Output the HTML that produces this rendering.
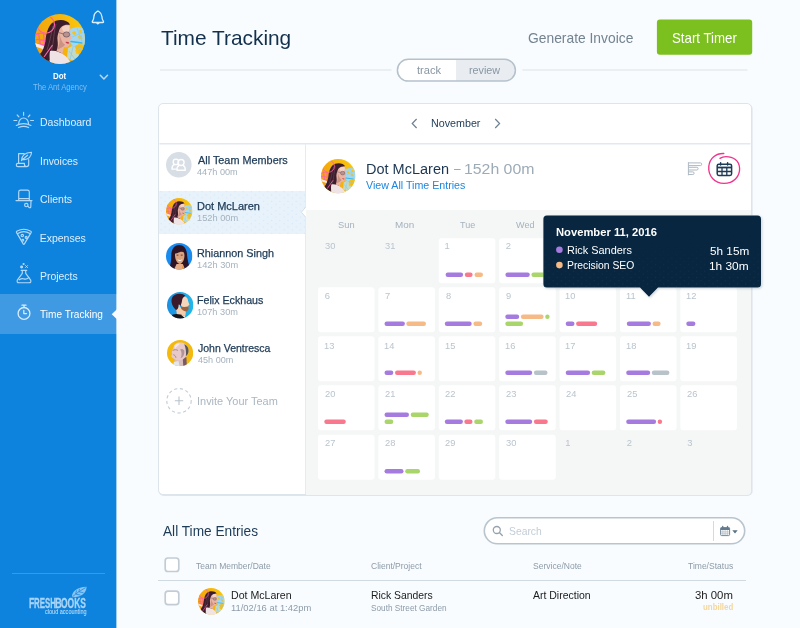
<!DOCTYPE html>
<html lang="en"><head><meta charset="utf-8"><title>Time Tracking</title>
<style>
*{box-sizing:border-box;margin:0;padding:0}
html,body{width:800px;height:628px;overflow:hidden}
body{position:relative;background:#f8fcff;font-family:"Liberation Sans",sans-serif;color:#1d3a56}
.t{position:absolute;white-space:nowrap;line-height:1;transform-origin:0 0;display:block}
.abs{position:absolute}
#side{position:absolute;left:0;top:0;width:116px;height:628px;background:#0e83de;border-right:0}
#sidee{position:absolute;left:116px;top:0;width:1px;height:628px;background:#9fcdf2}
#sidee i{position:absolute;left:0;top:294px;width:1px;height:40px;background:#b4d8f5}
#side .active{position:absolute;left:0;top:294px;width:116px;height:40px;background:#3f9ae3}
#side .notch{position:absolute;left:111.5px;top:309px;width:0;height:0;border-top:5.2px solid transparent;border-bottom:5.2px solid transparent;border-right:5.5px solid #f8fbfe}
#side .div{position:absolute;left:12px;top:573px;width:93px;height:1px;background:#3a99e4}
svg{position:absolute;overflow:visible}
.card{position:absolute;left:158px;top:103px;width:593.5px;height:392px;background:#fff;border:1.4px solid #dde4eb;border-radius:5px;box-shadow:.6px 1px 0 rgba(205,214,224,.6)}
.cal{position:absolute;left:306px;top:209.6px;width:445px;height:285px;background:#f5f7f7;border-bottom-right-radius:4px}
.cell{position:absolute;width:56.5px;height:45px;background:#fff;border-radius:3px}
.b{position:absolute;height:4.4px;border-radius:2.2px}
.p{fill:#a67be0}.o{fill:#f6ba86}.r{fill:#f8788d}.g{fill:#a9d56b}.y{fill:#b7c2c9}
</style></head><body>

<!-- ============ SIDEBAR ============ -->
<div id="side">
  <div class="active"></div><div class="div"></div>
</div>
<div id="sidee"><i></i></div>
<svg style="left:108px;top:305px" width="10" height="18" viewBox="108 305 10 18"><path d="M117.2 308.9 L111.7 314.2 L117.2 319.5 Z" fill="#f8fcff"/></svg>
<svg width="0" height="0" style="left:0;top:0"><defs>
<linearGradient id="dg" x1="0" y1="0.6" x2="1" y2="0.2"><stop offset="0" stop-color="#f2a110"/><stop offset="0.55" stop-color="#f6b40c"/><stop offset="1" stop-color="#fac90d"/></linearGradient>
<clipPath id="cc"><circle cx="50" cy="50" r="50"/></clipPath>
<symbol id="dot" viewBox="0 0 100 100">
 <g clip-path="url(#cc)">
  <rect width="100" height="100" fill="url(#dg)"/>
  <!-- blue doodles right -->
  <path d="M69 30 L84 26 L100 28 L100 62 L88 60 L76 66 L70 56 Z" fill="#a3d7f0"/>
  <path d="M66 68 L78 62 L90 86 L80 95 L64 88 Z" fill="#b9e0ea" opacity=".85"/>
  <path d="M74 36 l6 -2 l3 6 l-6 2z M86 44 l7 -2 l2 7 l-7 2z M80 72 l5 -2 l3 8 l-5 2z M88 32 l5 0 l1 5 l-5 1z" fill="#f7c21a"/>
  <path d="M72 55 L94 58" stroke="#3ab6ee" stroke-width="3" stroke-linecap="round"/>
  <path d="M70 62 L98 72 M74 46 L98 36 M84 28 L96 60 M68 74 L84 96 M76 66 L70 92" stroke="#8fcdea" stroke-width="1.8" fill="none"/>
  <!-- pink squiggles -->
  <path d="M1 42 C8 36 20 38 25 44 M0 52 C10 48 18 56 26 52 M3 60 C10 58 16 64 24 60 M7 38 L11 62 M17 38 L19 62" stroke="#ff62a6" stroke-width="2.5" fill="none"/>
  <!-- white stroke -->
  <path d="M0 58 C14 62 30 70 44 78 L42 84 C28 76 12 68 0 65 Z" fill="#f6e9e6"/>
  <!-- hair -->
  <path d="M51 12 C60 12 67 15 70 21 C64 22 58 26 55 32 C53 42 53 52 55 62 C56 70 54 78 50 84 L44 96 L26 92 L10 80 C16 74 19 64 21 54 C22 40 26 26 33 19 C38 14 45 12 51 12 Z" fill="#3b1d2c"/>
  <path d="M36 24 C32 40 30 56 24 72 M42 20 C37 36 38 54 33 74" stroke="#6e4757" stroke-width="2" fill="none" opacity=".8"/>
  <!-- face -->
  <path d="M48 34 C50 26 58 20 69 22 C71 28 71 35 70 40 C72 44 74 47 73 49 C72 51 70 51 70 53 C70 57 70 61 68 64 C65 67 61 67 58 66 C57 70 56 74 55 79 L43 74 C46 66 46 60 45 52 C44 46 46 40 48 34 Z" fill="#e9b5a2"/>
  <path d="M54 27 C58 23 64 22 69 24 C70 30 69 35 64 37 C58 37 54 33 54 27Z" fill="#f6d8ca" opacity=".85"/>
  <path d="M48 38 C50 50 50 62 44 72 C50 68 58 66 60 61 C54 58 52 50 48 38 Z" fill="#b97b70" opacity=".6"/>
  <path d="M61 56 C64 55 67 56 69 58 C67 60 63 60 61 56Z" fill="#c63d4f"/>
  <ellipse cx="63" cy="41" rx="6.4" ry="5.2" fill="rgba(120,95,110,.4)" stroke="#6a5566" stroke-width="1.5"/>
  <path d="M47 37 L57 40" stroke="#6a5566" stroke-width="1.4"/>
  <!-- shirt -->
  <path d="M30 74 C40 72 50 76 58 82 C64 86 68 90 70 96 L66 104 L30 104 C30 94 28 84 30 74 Z" fill="#f0e3e5"/>
  <path d="M10 80 C18 83 27 90 33 100 L8 100 Z" fill="#2e1824"/>
  <path d="M35 62 L18 86" stroke="#ff62a6" stroke-width="2.4"/>
  <!-- pink ring on top -->
  <circle cx="21.5" cy="21" r="17.5" fill="none" stroke="#ff62a6" stroke-width="2.4"/>
 </g>
</symbol>

</defs></svg>
<svg style="left:35px;top:14.4px" width="50" height="50"><use href="#dot" width="50" height="50"/></svg>

<svg style="left:0;top:0" width="117" height="628" viewBox="0 0 117 628" fill="none" stroke="#b4d9f7" stroke-width="1.15" stroke-linecap="round" stroke-linejoin="round">
 <!-- bell -->
 <path d="M97.9 10.9 C96.6 12 94 12.8 93.9 16.6 C93.8 19.4 93.2 20.4 92.5 21.2 C92 21.9 92.3 22.5 93.1 22.5 H102.7 C103.5 22.5 103.8 21.9 103.3 21.2 C102.6 20.2 102 19.2 101.9 16.4 C101.8 12.8 99.2 12 97.9 10.9 Z" stroke="#dcedfb" stroke-width="1.3"/>
 <path d="M96.5 23.1 Q97.9 25.6 99.3 23.1 Z" stroke="#dcedfb" stroke-width="1" fill="#dcedfb"/>
 <!-- chevron -->
 <path d="M100.3 75.2 L103.9 78.9 L107.5 75.2" stroke="#b5daf7" stroke-width="1.5"/>
 <!-- dashboard -->
 <path d="M18.7 123.6 A4.9 5.6 0 0 1 28.5 123.6"/>
 <path d="M23.6 112.4 V115.3 M17.2 115 L18.9 116.8 M29.9 115 L28.3 116.8 M13.9 120.5 H16.8 M30.6 120.5 H33.5"/>
 <path d="M16.3 125.5 Q23.6 121.8 30.9 125.5 M18.6 127.6 Q23.6 125.2 28.6 127.6"/>
 <!-- invoices -->
 <path d="M18.6 163.2 V153.6 H24.2 M28.7 159.6 V164.6 Q28.7 166.6 26.6 166.6 H17.9 Q16.3 166.6 16.3 164.9 Q16.3 163.3 17.9 163.3 H24.4 V164.6 Q24.4 166.6 26.6 166.6"/>
 <path d="M21.5 160.6 C21.6 156 25 152.6 31.5 152.3 C31.4 156.4 28.6 160 23.4 159.6 M22.3 159.8 L27.6 155.2"/>
 <!-- clients -->
 <path d="M18.7 200.5 V192 Q18.7 190.1 20.6 190.1 H27.4 Q29.3 190.1 29.3 192 V200.5 M18.7 198.6 H29.3 M16 200.6 H32"/>
 <circle cx="26.3" cy="205" r="1.7"/>
 <path d="M31 200.8 L30.8 206.8 Q30.6 208 29.2 207.7 L27.8 206.2"/>
 <!-- expenses -->
 <path d="M16.6 232.6 Q16 231.5 17.2 230.9 Q23.8 227.6 30.4 230.9 Q31.7 231.5 31.1 232.6 L24.4 243.9 Q23.8 244.8 23.2 243.9 Z"/>
 <path d="M17.8 233.6 Q23.8 229.6 29.9 233.6"/>
 <circle cx="22.3" cy="235.5" r="1.2"/><circle cx="26.2" cy="237.4" r="1"/><circle cx="22.8" cy="240.3" r=".9"/>
 <!-- projects -->
 <path d="M21.1 270.3 H26.8 M22.3 270.5 V273.3 L17.3 280.2 Q16.5 282.7 19 282.7 H29 Q31.5 282.7 30.7 280.2 L25.7 273.3 V270.5"/>
 <path d="M19.2 279.8 Q22 278 24 278.9 Q26.5 279.6 28.8 277.6"/>
 <circle cx="21.6" cy="266.9" r=".9" fill="#b4d9f7"/><circle cx="23.6" cy="264" r=".5" fill="#b4d9f7"/>
 <path d="M25.5 265.5 L27.6 267.6 M27.6 265.5 L25.5 267.6" stroke-width=".9"/>
 <!-- time tracking -->
 <circle cx="24" cy="313.4" r="5.9" stroke="#d9ecfb" stroke-width="1.3"/>
 <path d="M22 305.2 H26 M24 305.2 V307.5 M23.8 310.4 V313.6 H26.5" stroke="#d9ecfb" stroke-width="1.3"/>
</svg>

<span class="t" style="left:53.19px;top:72px;font-size:8.6px;color:#ffffff;font-weight:700;transform:scaleX(0.9231);">Dot</span>
<span class="t" style="left:33.12px;top:83px;font-size:8.6px;color:#80bef1;font-weight:400;transform:scaleX(0.8943);">The Ant Agency</span>
<span class="t" style="left:39.65px;top:117px;font-size:10.5px;color:#dfeefb;font-weight:400;transform:scaleX(1.0010);">Dashboard</span>
<span class="t" style="left:39.56px;top:156px;font-size:10.5px;color:#dfeefb;font-weight:400;transform:scaleX(0.9866);">Invoices</span>
<span class="t" style="left:40.00px;top:194px;font-size:10.5px;color:#dfeefb;font-weight:400;transform:scaleX(0.9984);">Clients</span>
<span class="t" style="left:39.65px;top:233px;font-size:10.5px;color:#dfeefb;font-weight:400;transform:scaleX(1.0000);">Expenses</span>
<span class="t" style="left:39.66px;top:271px;font-size:10.5px;color:#dfeefb;font-weight:400;transform:scaleX(0.9932);">Projects</span>
<span class="t" style="left:40.31px;top:309px;font-size:10.5px;color:#ffffff;font-weight:400;transform:scaleX(0.9606);">Time Tracking</span>
<svg style="left:70px;top:585px" width="18" height="14" viewBox="0 0 18 14"><path d="M2 12.2 C1.6 6.5 7 2.2 16.6 1.8 C16.4 8.2 11 12.6 2 12.2 Z" fill="#8cc5f1"/><path d="M2.4 11.8 C6 8.6 10 5.8 15.6 2.6 M5.6 9 L6.6 5.4 M8.8 6.8 L9.6 3.8 M6 9.2 L10.4 10 M9.2 7 L13.4 7.6" stroke="#0e83de" stroke-width=".7" fill="none"/></svg>
<span class="t" style="left:29.44px;top:595px;font-size:15.4px;color:#a9d4f6;font-weight:700;transform:scaleX(0.5605);-webkit-text-stroke:.3px #a9d4f6">F</span>
<span class="t" style="left:34.09px;top:597px;font-size:13.8px;color:#a9d4f6;font-weight:700;transform:scaleX(0.5691);-webkit-text-stroke:.3px #a9d4f6">RESH</span>
<span class="t" style="left:54.99px;top:595px;font-size:15.4px;color:#a9d4f6;font-weight:700;transform:scaleX(0.6138);-webkit-text-stroke:.3px #a9d4f6">B</span>
<span class="t" style="left:61.26px;top:597px;font-size:13.8px;color:#a9d4f6;font-weight:700;transform:scaleX(0.6162);-webkit-text-stroke:.3px #a9d4f6">OOKS</span>
<span class="t" style="left:44.79px;top:609px;font-size:6.6px;color:#cbe4f9;font-weight:400;transform:scaleX(0.8393);">cloud accounting</span>


<!-- ============ HEADER ============ -->
<span class="t" style="left:160.74px;top:28px;font-size:20.4px;color:#13304d;font-weight:400;transform:scaleX(1.0231);">Time Tracking</span>
<span class="t" style="left:527.70px;top:31px;font-size:14.8px;color:#73838f;font-weight:400;transform:scaleX(0.9349);">Generate Invoice</span>
<svg style="left:650px;top:15px" width="110" height="45" viewBox="650 15 110 45"><rect x="656.9" y="19.4" width="95.3" height="35.3" rx="3" fill="#7cc01f"/></svg>
<span class="t" style="left:671.91px;top:31px;font-size:14.6px;color:#ffffff;font-weight:400;transform:scaleX(0.9086);">Start Timer</span>
<svg style="left:0;top:0" width="800" height="100" viewBox="0 0 800 100"><path d="M160 70 H391.4 M522.4 70 H747.5" stroke="#dbe2e9" stroke-width="1.2"/></svg>
<svg style="left:390px;top:54px" width="132" height="32" viewBox="390 54 132 32"><defs><clipPath id="pc"><rect x="397.4" y="59.3" width="118" height="21.8" rx="10.9"/></clipPath></defs><rect x="397.4" y="59.3" width="118" height="21.8" rx="10.9" fill="#fff"/><rect x="456" y="58" width="62" height="25" fill="#e9edf2" clip-path="url(#pc)"/><rect x="397.4" y="59.3" width="118" height="21.8" rx="10.9" fill="none" stroke="#b5c1cb" stroke-width="1.5"/></svg>
<span class="t" style="left:417.46px;top:64px;font-size:11.6px;color:#8896a2;font-weight:400;transform:scaleX(0.9600);">track</span>
<span class="t" style="left:469.10px;top:64px;font-size:11.6px;color:#8896a2;font-weight:400;transform:scaleX(0.9299);">review</span>

<!-- ============ CARD ============ -->
<div class="card"></div>
<svg style="left:0;top:140px" width="800" height="8" viewBox="0 140 800 8"><path d="M159.4 143.7 H750.4" stroke="#e2e8ef" stroke-width="1.5"/></svg>
<div class="abs" style="left:304.6px;top:144px;width:1.8px;height:350px;background:#e6ebf1"></div>
<span class="t" style="left:430.74px;top:118px;font-size:10.6px;color:#1d3a56;font-weight:400;transform:scaleX(1.0115);">November</span>
<svg style="left:411px;top:118px" width="7" height="11" viewBox="0 0 7 11"><path d="M5.6 1 L1.2 5.5 L5.6 10" fill="none" stroke="#6f8090" stroke-width="1.2"/></svg>
<svg style="left:493.5px;top:118px" width="7" height="11" viewBox="0 0 7 11"><path d="M1.2 1 L5.6 5.5 L1.2 10" fill="none" stroke="#6f8090" stroke-width="1.2"/></svg>

<!-- team list -->
<div class="abs" style="left:159px;top:190.6px;width:146px;height:43px;background:#e7f2fb"></div>
<!-- highlight notch -->
<svg style="left:159px;top:190px" width="148" height="44" viewBox="159 190 148 44"><defs><pattern id="dots" x="159" y="190" width="8.2" height="6.4" patternUnits="userSpaceOnUse"><circle cx="2" cy="1.6" r=".55" fill="#c9e0f2"/><circle cx="6.1" cy="4.8" r=".55" fill="#c9e0f2"/></pattern></defs>
<rect x="159" y="190.6" width="146" height="43" fill="url(#dots)"/>
<path d="M306.2 206.8 L301.4 212.2 L306.2 217.6 Z" fill="#fff"/><path d="M305.6 207.2 L301.4 212.2 L305.6 217.2" fill="none" stroke="#d3dce4" stroke-width=".9"/></svg>
<!-- all team icon -->
<svg style="left:166px;top:151.7px" width="25.6" height="25.6" viewBox="0 0 25.6 25.6"><circle cx="12.8" cy="12.8" r="12.8" fill="#d8dee5"/>
<g fill="none" stroke="#fff" stroke-width="1.35" stroke-linejoin="round"><circle cx="9.9" cy="9.9" r="2.7"/><path d="M8.3 12.4 C6.4 13.4 5.9 15.2 6 17.2 H10.6"/><circle cx="15.1" cy="10.5" r="3"/><path d="M13.2 13.3 C11.3 14.2 10.8 16.2 10.9 18.3 H19.3 C19.4 16.2 18.9 14.2 17 13.3"/></g></svg>
<!-- dot list avatar -->
<svg style="left:166.3px;top:198px" width="26.4" height="26.4"><use href="#dot" width="26.4" height="26.4"/></svg>
<!-- rhiannon -->
<svg style="left:166.2px;top:243px" width="26.4" height="26.4" viewBox="0 0 100 100"><g clip-path="url(#cc)">
 <rect width="100" height="100" fill="#1a8cf0"/>
 <path d="M50 8 C70 8 80 26 80 48 C82 66 86 80 90 92 L60 100 L30 100 L14 92 C18 78 20 64 20 48 C20 26 30 8 50 8 Z" fill="#2d1526"/>
 <path d="M34 42 C36 30 44 26 52 28 C62 26 70 34 70 46 C70 62 64 76 52 80 C40 76 34 62 34 42 Z" fill="#dca47e"/>
 <path d="M40 80 L64 80 L72 100 L30 100 Z" fill="#e2ad88"/>
 <path d="M30 36 C38 20 60 18 72 38 C62 30 52 34 44 38 C40 40 34 42 30 36 Z" fill="#2d1526"/>
 <path d="M43 62 C48 66 58 66 62 61 C60 70 46 71 43 62 Z" fill="#fff"/>
 <path d="M40 46 l7 0 M56 46 l7 0" stroke="#4a2030" stroke-width="3"/>
 <path d="M62 88 l4 0 l0 10 l-4 0z" fill="#f08a1c"/>
</g></svg>
<!-- felix -->
<svg style="left:166.7px;top:291.7px" width="26.4" height="26.4" viewBox="0 0 100 100"><defs><linearGradient id="fg" x1="0" y1="0" x2="1" y2="0"><stop offset="0" stop-color="#1b8ee2"/><stop offset=".5" stop-color="#1ea4e6"/><stop offset="1" stop-color="#22b8e8"/></linearGradient></defs><g clip-path="url(#cc)">
 <rect width="100" height="100" fill="url(#fg)"/>
 <path d="M34 60 L46 54 L72 70 L70 88 L38 90 Z" fill="#f3ccab"/>
 <path d="M54 18 C68 12 80 22 80 34 L85 48 L80 52 L82 60 L76 66 L58 62 L50 42 Z" fill="#f6d6ba"/>
 <path d="M54 54 C60 58 70 57 82 54 C84 64 80 72 72 74 C63 73 56 68 52 60 Z" fill="#9a6440"/>
 <path d="M30 10 C44 4 62 6 70 14 C62 18 58 24 57 32 C56 40 54 44 52 52 C48 48 44 50 43 56 C43 62 40 66 34 68 C22 58 14 40 18 26 C20 18 24 13 30 10 Z" fill="#3a1a2b"/>
 <path d="M44 48 C47 46 51 50 49 58 C45 58 43 53 44 48Z" fill="#ecbf9e"/>
 <path d="M20 86 C34 80 50 84 66 90 L64 102 L16 102 Z" fill="#15121a"/>
 <path d="M54 87 L70 89 L66 97 Z" fill="#f4f0ee"/>
</g></svg>
<!-- john -->
<svg style="left:166.9px;top:340.3px" width="26.2" height="26.2" viewBox="0 0 100 100"><g clip-path="url(#cc)">
 <rect width="100" height="100" fill="#f4b90d"/>
 <path d="M30 70 L70 60 L74 100 L26 100 Z" fill="#d9bcbc"/>
 <path d="M26 84 L44 80 L48 100 L24 100 Z" fill="#e4e6ea"/>
 <path d="M60 62 L74 66 L76 100 L62 100 Z" fill="#7a5a62"/>
 <path d="M44 10 C62 6 78 16 82 34 C84 50 78 62 66 70 C58 78 46 80 36 76 L22 70 L16 62 L20 54 L18 46 L24 30 C28 18 34 12 44 10 Z" fill="#e6c9c8"/>
 <path d="M66 16 C78 20 84 32 82 46 C80 54 76 60 72 62 C74 48 72 30 66 16 Z" fill="#56565c"/>
 <path d="M50 36 C56 44 58 56 52 70 C62 66 68 54 66 40 C62 34 56 32 50 36 Z" fill="#a8868c" opacity=".8"/>
 <path d="M22 40 C28 36 36 36 42 40 M24 56 C30 58 34 62 34 68" stroke="#9a7a82" stroke-width="3" fill="none"/>
 <path d="M28 20 C34 14 42 12 50 14 C44 20 36 26 30 34 Z" fill="#f3e3e2"/>
</g></svg>
<!-- invite -->
<svg style="left:166px;top:388.4px" width="26" height="26" viewBox="0 0 26 26"><circle cx="13" cy="12.8" r="12.2" fill="none" stroke="#c3ccd5" stroke-width="1.1" stroke-dasharray="3.2 2.6"/><path d="M13 8.6 V17 M8.8 12.8 H17.2" stroke="#b9c3cc" stroke-width="1.1"/></svg>

<span class="t" style="left:197.60px;top:155px;font-size:10.9px;color:#1d3a56;font-weight:400;transform:scaleX(0.9972);-webkit-text-stroke:.25px #1d3a56">All Team Members</span>
<span class="t" style="left:197.38px;top:168px;font-size:8.4px;color:#a5b2bd;font-weight:400;transform:scaleX(1.0929);">447h 00m</span>
<span class="t" style="left:196.69px;top:201px;font-size:10.9px;color:#1d3a56;font-weight:400;transform:scaleX(1.0099);-webkit-text-stroke:.25px #1d3a56">Dot McLaren</span>
<span class="t" style="left:196.88px;top:214px;font-size:8.4px;color:#a5b2bd;font-weight:400;transform:scaleX(1.1065);">152h 00m</span>
<span class="t" style="left:196.71px;top:248px;font-size:10.9px;color:#1d3a56;font-weight:400;transform:scaleX(0.9928);-webkit-text-stroke:.25px #1d3a56">Rhiannon Singh</span>
<span class="t" style="left:196.88px;top:261px;font-size:8.4px;color:#a5b2bd;font-weight:400;transform:scaleX(1.1065);">142h 30m</span>
<span class="t" style="left:197.02px;top:295px;font-size:10.9px;color:#1d3a56;font-weight:400;transform:scaleX(0.9782);-webkit-text-stroke:.25px #1d3a56">Felix Eckhaus</span>
<span class="t" style="left:197.19px;top:308px;font-size:8.4px;color:#a5b2bd;font-weight:400;transform:scaleX(1.0982);">107h 30m</span>
<span class="t" style="left:197.76px;top:343px;font-size:10.9px;color:#1d3a56;font-weight:400;transform:scaleX(0.9653);-webkit-text-stroke:.25px #1d3a56">John Ventresca</span>
<span class="t" style="left:197.68px;top:356px;font-size:8.4px;color:#a5b2bd;font-weight:400;transform:scaleX(1.0829);">45h 00m</span>
<span class="t" style="left:196.89px;top:396px;font-size:10.9px;color:#aab6c0;font-weight:400;transform:scaleX(1.0057);">Invite Your Team</span>

<!-- right panel header -->
<span class="t" style="left:365.81px;top:161px;font-size:15.2px;color:#1b3652;font-weight:400;transform:scaleX(0.9552);">Dot McLaren</span>
<span class="t" style="left:453.80px;top:160px;font-size:15.2px;color:#9dabb7;font-weight:400;transform:scaleX(0.7811);">–</span>
<span class="t" style="left:464.10px;top:161px;font-size:15.2px;color:#9dabb7;font-weight:400;transform:scaleX(1.0420);">152h 00m</span>
<span class="t" style="left:365.95px;top:180px;font-size:10.9px;color:#1c86e0;font-weight:400;transform:scaleX(0.9792);">View All Time Entries</span>
<svg style="left:321.3px;top:158.8px" width="34.4" height="34.4"><use href="#dot" width="34.4" height="34.4"/></svg>
<svg style="left:680px;top:150px" width="66" height="40" viewBox="680 150 66 40" fill="none">
 <g stroke="#aeb9c3" stroke-width="1">
  <path d="M688.4 162.2 V175.3"/>
  <path d="M688.4 162.9 H700.4 Q701.7 162.9 701.7 164.2 Q701.7 165.6 700.4 165.6 H688.4"/>
  <path d="M688.4 167.3 H696.8 Q698.1 167.3 698.1 168.6 Q698.1 170 696.8 170 H688.4"/>
  <path d="M688.4 171.9 H692.8 Q694.1 171.9 694.1 173.2 Q694.1 174.5 692.8 174.5 H688.4"/>
 </g>
 <g stroke="#1d3a56" stroke-width="1.5">
  <rect x="717.2" y="164.2" width="14.4" height="11.2" rx="1.6"/>
  <path d="M717.2 167.5 H731.6" stroke-width="1.8"/>
  <path d="M722 167.5 V175.4 M726.8 167.5 V175.4 M717.2 171.5 H731.6" stroke-width="1.3"/>
  <path d="M720.6 162.7 V165 M727.6 162.7 V165" stroke-width="1.5" stroke-linecap="round"/>
 </g>
 <path d="M723.8 153.5 C716 153.2 709.6 158 708.8 166.4 C708 176 714.6 183.4 724 183.4 C733.4 183.4 740 176.6 739.6 168.2 C739.2 160.6 733.2 156.6 726 156.6 C723.6 156.6 721.6 157.2 720 158.4" stroke="#f0348c" stroke-width="1.35" stroke-linecap="round"/>
</svg>


<!-- calendar -->
<div class="cal"></div>
<svg style="left:0;top:0" width="800" height="628" viewBox="0 0 800 628"><rect x="438.8" y="238.2" width="56.5" height="45" rx="3" fill="#fff"/><rect x="499.2" y="238.2" width="56.5" height="45" rx="3" fill="#fff"/><rect x="559.6" y="238.2" width="56.5" height="45" rx="3" fill="#fff"/><rect x="620.0" y="238.2" width="56.5" height="45" rx="3" fill="#fff"/><rect x="680.4" y="238.2" width="56.5" height="45" rx="3" fill="#fff"/><rect x="318.0" y="287.2" width="56.5" height="45" rx="3" fill="#fff"/><rect x="378.4" y="287.2" width="56.5" height="45" rx="3" fill="#fff"/><rect x="438.8" y="287.2" width="56.5" height="45" rx="3" fill="#fff"/><rect x="499.2" y="287.2" width="56.5" height="45" rx="3" fill="#fff"/><rect x="559.6" y="287.2" width="56.5" height="45" rx="3" fill="#fff"/><rect x="620.0" y="287.2" width="56.5" height="45" rx="3" fill="#fff"/><rect x="680.4" y="287.2" width="56.5" height="45" rx="3" fill="#fff"/><rect x="318.0" y="336.2" width="56.5" height="45" rx="3" fill="#fff"/><rect x="378.4" y="336.2" width="56.5" height="45" rx="3" fill="#fff"/><rect x="438.8" y="336.2" width="56.5" height="45" rx="3" fill="#fff"/><rect x="499.2" y="336.2" width="56.5" height="45" rx="3" fill="#fff"/><rect x="559.6" y="336.2" width="56.5" height="45" rx="3" fill="#fff"/><rect x="620.0" y="336.2" width="56.5" height="45" rx="3" fill="#fff"/><rect x="680.4" y="336.2" width="56.5" height="45" rx="3" fill="#fff"/><rect x="318.0" y="385.2" width="56.5" height="45" rx="3" fill="#fff"/><rect x="378.4" y="385.2" width="56.5" height="45" rx="3" fill="#fff"/><rect x="438.8" y="385.2" width="56.5" height="45" rx="3" fill="#fff"/><rect x="499.2" y="385.2" width="56.5" height="45" rx="3" fill="#fff"/><rect x="559.6" y="385.2" width="56.5" height="45" rx="3" fill="#fff"/><rect x="620.0" y="385.2" width="56.5" height="45" rx="3" fill="#fff"/><rect x="680.4" y="385.2" width="56.5" height="45" rx="3" fill="#fff"/><rect x="318.0" y="434.7" width="56.5" height="45" rx="3" fill="#fff"/><rect x="378.4" y="434.7" width="56.5" height="45" rx="3" fill="#fff"/><rect x="438.8" y="434.7" width="56.5" height="45" rx="3" fill="#fff"/><rect x="499.2" y="434.7" width="56.5" height="45" rx="3" fill="#fff"/><rect class="p" x="445.6" y="272.6" width="17.5" height="4.4" rx="2.2"/><rect class="r" x="464.8" y="272.6" width="7.8" height="4.4" rx="2.2"/><rect class="o" x="474.5" y="272.6" width="8.5" height="4.4" rx="2.2"/><rect class="p" x="505.4" y="272.6" width="24.4" height="4.4" rx="2.2"/><rect class="g" x="531.4" y="272.6" width="16.6" height="4.4" rx="2.2"/><rect class="p" x="384.5" y="321.6" width="20.4" height="4.4" rx="2.2"/><rect class="o" x="406.3" y="321.6" width="19.7" height="4.4" rx="2.2"/><rect class="p" x="444.8" y="321.6" width="26.9" height="4.4" rx="2.2"/><rect class="o" x="473.4" y="321.6" width="8.8" height="4.4" rx="2.2"/><rect class="p" x="505.3" y="314.6" width="13.9" height="4.4" rx="2.2"/><rect class="o" x="520.9" y="314.6" width="22.7" height="4.4" rx="2.2"/><rect class="g" x="545.2" y="314.6" width="4.4" height="4.4" rx="2.2"/><rect class="g" x="505.3" y="321.6" width="17.8" height="4.4" rx="2.2"/><rect class="p" x="565.7" y="321.6" width="8.8" height="4.4" rx="2.2"/><rect class="r" x="576.1" y="321.6" width="21.1" height="4.4" rx="2.2"/><rect class="p" x="626.8" y="321.6" width="24.1" height="4.4" rx="2.2"/><rect class="o" x="652.5" y="321.6" width="8.1" height="4.4" rx="2.2"/><rect class="p" x="686.3" y="321.6" width="9.1" height="4.4" rx="2.2"/><rect class="p" x="384.5" y="370.6" width="8.8" height="4.4" rx="2.2"/><rect class="r" x="395.0" y="370.6" width="20.9" height="4.4" rx="2.2"/><rect class="o" x="417.5" y="370.6" width="4.4" height="4.4" rx="2.2"/><rect class="p" x="505.3" y="370.6" width="26.9" height="4.4" rx="2.2"/><rect class="y" x="533.9" y="370.6" width="13.6" height="4.4" rx="2.2"/><rect class="p" x="565.7" y="370.6" width="24.4" height="4.4" rx="2.2"/><rect class="g" x="591.7" y="370.6" width="13.7" height="4.4" rx="2.2"/><rect class="p" x="626.2" y="370.6" width="24.0" height="4.4" rx="2.2"/><rect class="y" x="651.8" y="370.6" width="17.6" height="4.4" rx="2.2"/><rect class="r" x="324.3" y="419.6" width="21.5" height="4.4" rx="2.2"/><rect class="p" x="384.5" y="412.6" width="24.5" height="4.4" rx="2.2"/><rect class="g" x="410.7" y="412.6" width="18.1" height="4.4" rx="2.2"/><rect class="g" x="384.5" y="419.6" width="8.8" height="4.4" rx="2.2"/><rect class="p" x="444.8" y="419.6" width="18.1" height="4.4" rx="2.2"/><rect class="r" x="464.3" y="419.6" width="8.2" height="4.4" rx="2.2"/><rect class="g" x="474.2" y="419.6" width="8.8" height="4.4" rx="2.2"/><rect class="p" x="505.3" y="419.6" width="26.9" height="4.4" rx="2.2"/><rect class="r" x="533.9" y="419.6" width="13.9" height="4.4" rx="2.2"/><rect class="p" x="626.2" y="419.6" width="29.9" height="4.4" rx="2.2"/><rect class="r" x="657.7" y="419.6" width="4.4" height="4.4" rx="2.2"/><rect class="p" x="384.5" y="469.1" width="19.0" height="4.4" rx="2.2"/><rect class="g" x="405.2" y="469.1" width="14.8" height="4.4" rx="2.2"/></svg>
<span class="t" style="left:337.56px;top:220px;font-size:9.6px;color:#a5b2bd;font-weight:400;transform:scaleX(0.9720);">Sun</span>
<span class="t" style="left:395.08px;top:220px;font-size:9.6px;color:#a5b2bd;font-weight:400;transform:scaleX(1.0289);">Mon</span>
<span class="t" style="left:459.71px;top:220px;font-size:9.6px;color:#a5b2bd;font-weight:400;transform:scaleX(0.9389);">Tue</span>
<span class="t" style="left:516.05px;top:220px;font-size:9.6px;color:#a5b2bd;font-weight:400;transform:scaleX(0.9446);">Wed</span>
<span class="t" style="left:578.40px;top:220px;font-size:9.6px;color:#a5b2bd;font-weight:400;transform:scaleX(1.0191);">Thu</span>
<span class="t" style="left:640.71px;top:220px;font-size:9.6px;color:#a5b2bd;font-weight:400;transform:scaleX(1.1077);">Fri</span>
<span class="t" style="left:699.95px;top:220px;font-size:9.6px;color:#a5b2bd;font-weight:400;transform:scaleX(1.0072);">Sat</span>
<span class="t" style="left:324.75px;top:241px;font-size:9.4px;color:#b9c4cd;font-weight:400;transform:scaleX(0.9949);">30</span>
<span class="t" style="left:385.15px;top:241px;font-size:9.4px;color:#b9c4cd;font-weight:400;transform:scaleX(0.9897);">31</span>
<span class="t" style="left:444.50px;top:241px;font-size:9.4px;color:#b9c4cd;font-weight:400;transform:scaleX(1.0000);">1</span>
<span class="t" style="left:505.85px;top:241px;font-size:9.4px;color:#b9c4cd;font-weight:400;transform:scaleX(1.0000);">2</span>
<span class="t" style="left:566.35px;top:241px;font-size:9.4px;color:#b9c4cd;font-weight:400;transform:scaleX(1.0000);">3</span>
<span class="t" style="left:626.90px;top:241px;font-size:9.4px;color:#b9c4cd;font-weight:400;transform:scaleX(0.9895);">4</span>
<span class="t" style="left:687.15px;top:241px;font-size:9.4px;color:#b9c4cd;font-weight:400;transform:scaleX(1.0000);">5</span>
<span class="t" style="left:324.65px;top:291px;font-size:9.4px;color:#b9c4cd;font-weight:400;transform:scaleX(1.0000);">6</span>
<span class="t" style="left:385.05px;top:291px;font-size:9.4px;color:#b9c4cd;font-weight:400;transform:scaleX(1.0000);">7</span>
<span class="t" style="left:445.50px;top:291px;font-size:9.4px;color:#b9c4cd;font-weight:400;transform:scaleX(0.9888);">8</span>
<span class="t" style="left:505.86px;top:291px;font-size:9.4px;color:#b9c4cd;font-weight:400;transform:scaleX(0.9885);">9</span>
<span class="t" style="left:565.31px;top:291px;font-size:9.4px;color:#b9c4cd;font-weight:400;transform:scaleX(0.9894);">10</span>
<span class="t" style="left:625.70px;top:291px;font-size:9.4px;color:#b9c4cd;font-weight:400;transform:scaleX(0.9942);">11</span>
<span class="t" style="left:686.11px;top:291px;font-size:9.4px;color:#b9c4cd;font-weight:400;transform:scaleX(0.9892);">12</span>
<span class="t" style="left:323.71px;top:341px;font-size:9.4px;color:#b9c4cd;font-weight:400;transform:scaleX(0.9894);">13</span>
<span class="t" style="left:384.11px;top:341px;font-size:9.4px;color:#b9c4cd;font-weight:400;transform:scaleX(0.9895);">14</span>
<span class="t" style="left:444.51px;top:341px;font-size:9.4px;color:#b9c4cd;font-weight:400;transform:scaleX(0.9894);">15</span>
<span class="t" style="left:504.91px;top:341px;font-size:9.4px;color:#b9c4cd;font-weight:400;transform:scaleX(0.9894);">16</span>
<span class="t" style="left:565.31px;top:341px;font-size:9.4px;color:#b9c4cd;font-weight:400;transform:scaleX(0.9892);">17</span>
<span class="t" style="left:625.71px;top:341px;font-size:9.4px;color:#b9c4cd;font-weight:400;transform:scaleX(0.9894);">18</span>
<span class="t" style="left:686.10px;top:341px;font-size:9.4px;color:#b9c4cd;font-weight:400;transform:scaleX(0.9947);">19</span>
<span class="t" style="left:324.65px;top:389px;font-size:9.4px;color:#b9c4cd;font-weight:400;transform:scaleX(0.9948);">20</span>
<span class="t" style="left:385.05px;top:389px;font-size:9.4px;color:#b9c4cd;font-weight:400;transform:scaleX(0.9896);">21</span>
<span class="t" style="left:445.45px;top:389px;font-size:9.4px;color:#b9c4cd;font-weight:400;transform:scaleX(0.9948);">22</span>
<span class="t" style="left:505.85px;top:389px;font-size:9.4px;color:#b9c4cd;font-weight:400;transform:scaleX(0.9948);">23</span>
<span class="t" style="left:566.25px;top:389px;font-size:9.4px;color:#b9c4cd;font-weight:400;transform:scaleX(0.9949);">24</span>
<span class="t" style="left:626.65px;top:389px;font-size:9.4px;color:#b9c4cd;font-weight:400;transform:scaleX(0.9948);">25</span>
<span class="t" style="left:687.05px;top:389px;font-size:9.4px;color:#b9c4cd;font-weight:400;transform:scaleX(0.9948);">26</span>
<span class="t" style="left:324.65px;top:438px;font-size:9.4px;color:#b9c4cd;font-weight:400;transform:scaleX(0.9948);">27</span>
<span class="t" style="left:385.05px;top:438px;font-size:9.4px;color:#b9c4cd;font-weight:400;transform:scaleX(0.9948);">28</span>
<span class="t" style="left:445.45px;top:438px;font-size:9.4px;color:#b9c4cd;font-weight:400;transform:scaleX(0.9896);">29</span>
<span class="t" style="left:505.95px;top:438px;font-size:9.4px;color:#b9c4cd;font-weight:400;transform:scaleX(0.9949);">30</span>
<span class="t" style="left:565.30px;top:438px;font-size:9.4px;color:#b9c4cd;font-weight:400;transform:scaleX(1.0000);">1</span>
<span class="t" style="left:626.65px;top:438px;font-size:9.4px;color:#b9c4cd;font-weight:400;transform:scaleX(1.0000);">2</span>
<span class="t" style="left:687.15px;top:438px;font-size:9.4px;color:#b9c4cd;font-weight:400;transform:scaleX(1.0000);">3</span>


<!-- tooltip -->
<svg style="left:535px;top:210px" width="235" height="95" viewBox="535 210 235 95"><defs><pattern id="tdots" x="543" y="215" width="8.2" height="6.4" patternUnits="userSpaceOnUse"><circle cx="2" cy="1.6" r=".5" fill="#20405c"/><circle cx="6.1" cy="4.8" r=".5" fill="#20405c"/></pattern><linearGradient id="tfade" x1="0" y1="0" x2="0" y2="1"><stop offset=".25" stop-color="#fff" stop-opacity="0"/><stop offset="1" stop-color="#fff" stop-opacity="1"/></linearGradient><mask id="tm"><rect x="543" y="215" width="220" height="74" fill="url(#tfade)"/></mask></defs>
<path d="M546.9 215.5 H757.5 Q761 215.5 761 219 V284 Q761 287.5 757.5 287.5 H658 L649 296.8 L640 287.5 H546.9 Q543.4 287.5 543.4 284 V219 Q543.4 215.5 546.9 215.5 Z" fill="#082640" stroke="rgba(235,240,245,.6)" stroke-width="1" paint-order="stroke" style="filter:drop-shadow(1.2px 1px 1.2px rgba(90,110,130,.28))"/>
<rect x="544" y="216" width="216.5" height="71" fill="url(#tdots)" mask="url(#tm)"/></svg>
<span class="t" style="left:555.88px;top:227px;font-size:10.9px;color:#ffffff;font-weight:700;transform:scaleX(1.0288);">November 11, 2016</span>
<svg style="left:550px;top:240px" width="20" height="34" viewBox="550 240 20 34"><circle cx="559.4" cy="249.8" r="3.3" fill="#a67be0"/><circle cx="559.4" cy="265.1" r="3.3" fill="#f6ba86"/></svg>
<span class="t" style="left:567.10px;top:245px;font-size:10.9px;color:#ffffff;font-weight:400;transform:scaleX(1.0016);">Rick Sanders</span>
<span class="t" style="left:567.14px;top:260px;font-size:10.9px;color:#ffffff;font-weight:400;transform:scaleX(0.9503);">Precision SEO</span>
<span class="t" style="left:709.51px;top:246px;font-size:10.9px;color:#ffffff;font-weight:400;transform:scaleX(1.0795);">5h 15m</span>
<span class="t" style="left:709.13px;top:261px;font-size:10.9px;color:#ffffff;font-weight:400;transform:scaleX(1.0904);">1h 30m</span>

<!-- ============ ENTRIES ============ -->
<span class="t" style="left:162.85px;top:524px;font-size:14px;color:#1d3a56;font-weight:400;transform:scaleX(0.9772);">All Time Entries</span>
<svg style="left:480px;top:514px" width="270" height="34" viewBox="480 514 270 34"><rect x="484.3" y="517.8" width="260.4" height="26" rx="13" fill="#fff" stroke="#b9c5ce" stroke-width="1.6"/></svg>
<div class="abs" style="left:712.6px;top:521px;width:1px;height:20px;background:#d3dbe2"></div>
<svg style="left:484px;top:515px" width="264" height="32" viewBox="484 515 264 32" fill="none">
 <circle cx="496.8" cy="530" r="3.5" stroke="#96a3ae" stroke-width="1.3"/>
 <path d="M499.4 532.6 L502.3 535.4" stroke="#96a3ae" stroke-width="1.4" stroke-linecap="round"/>
 <rect x="720.6" y="527.6" width="9" height="8" rx="1" stroke="#647a8d" stroke-width=".9"/>
 <rect x="720.6" y="527.6" width="9" height="2.4" fill="#647a8d"/>
 <path d="M722.7 526.3 V528 M727.5 526.3 V528" stroke="#647a8d" stroke-width="1.3" stroke-linecap="round"/>
 <path d="M722.9 530 V535.6 M725.1 530 V535.6 M727.3 530 V535.6 M720.6 531.9 H729.6 M720.6 533.8 H729.6" stroke="#8fa0ae" stroke-width=".5"/>
 <path d="M732.3 530.3 H737.7 L735 533.5 Z" fill="#5b7286"/>
</svg>

<span class="t" style="left:508.73px;top:526px;font-size:10.9px;color:#c3cdd6;font-weight:400;transform:scaleX(0.9489);">Search</span>
<svg style="left:160px;top:550px" width="30" height="60" viewBox="160 550 30 60"><rect x="165.2" y="558" width="13.6" height="13.5" rx="2.8" fill="#fff" stroke="#c3ccd5" stroke-width="1.7"/><rect x="165.2" y="591.1" width="13.6" height="13.5" rx="2.8" fill="#fff" stroke="#c3ccd5" stroke-width="1.7"/></svg>
<span class="t" style="left:196.31px;top:562px;font-size:9px;color:#8d9ba8;font-weight:400;transform:scaleX(0.9452);">Team Member/Date</span>
<span class="t" style="left:370.97px;top:562px;font-size:9px;color:#8d9ba8;font-weight:400;transform:scaleX(0.9453);">Client/Project</span>
<span class="t" style="left:533.02px;top:562px;font-size:9px;color:#8d9ba8;font-weight:400;transform:scaleX(0.9467);">Service/Note</span>
<span class="t" style="left:687.81px;top:562px;font-size:9px;color:#8d9ba8;font-weight:400;transform:scaleX(0.9470);">Time/Status</span>
<div class="abs" style="left:158px;top:580px;width:588px;height:1.2px;background:#d2dae1"></div>
<span class="t" style="left:231.06px;top:590px;font-size:11.3px;color:#1c1c1c;font-weight:400;transform:scaleX(0.9374);">Dot McLaren</span>
<span class="t" style="left:231.22px;top:604px;font-size:9px;color:#8d9ba8;font-weight:400;transform:scaleX(1.0430);">11/02/16 at 1:42pm</span>
<span class="t" style="left:370.57px;top:590px;font-size:11.3px;color:#1c1c1c;font-weight:400;transform:scaleX(0.9196);">Rick Sanders</span>
<span class="t" style="left:371.03px;top:604px;font-size:9px;color:#8d9ba8;font-weight:400;transform:scaleX(0.9154);">South Street Garden</span>
<span class="t" style="left:533.40px;top:590px;font-size:11.3px;color:#1c1c1c;font-weight:400;transform:scaleX(0.9276);">Art Direction</span>
<span class="t" style="left:695.30px;top:590px;font-size:11.3px;color:#1c1c1c;font-weight:400;transform:scaleX(1.0055);">3h 00m</span>
<span class="t" style="left:702.72px;top:603px;font-size:8.3px;color:#f5d69c;font-weight:700;transform:scaleX(0.9513);">unbilled</span>
<svg style="left:198.2px;top:588.3px" width="26.6" height="26.6"><use href="#dot" width="26.6" height="26.6"/></svg>

</body></html>
